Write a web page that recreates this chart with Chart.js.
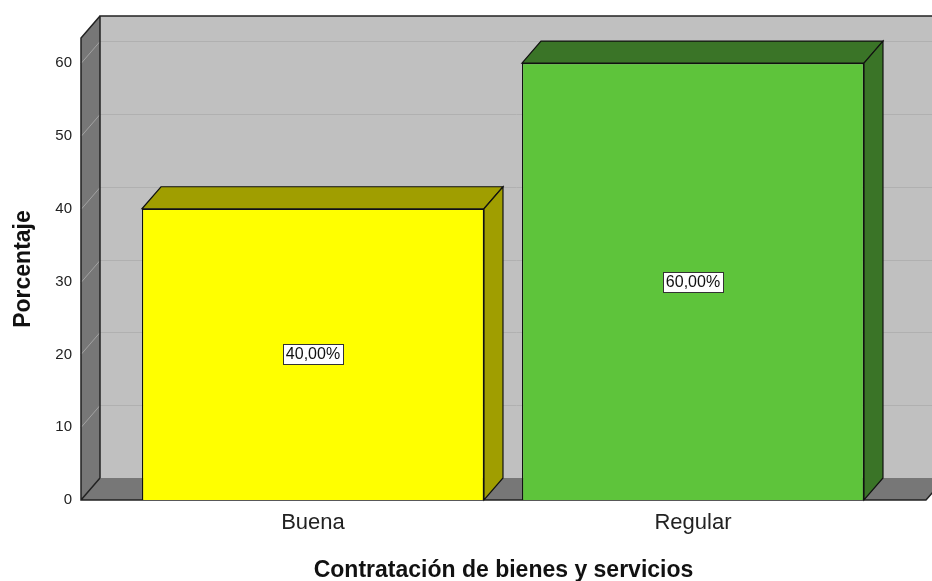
<!DOCTYPE html>
<html>
<head>
<meta charset="utf-8">
<script src="https://cdn.jsdelivr.net/npm/chart.js@4"></script>
<style>
  html, body { margin: 0; padding: 0; background: #fff; }
  #wrap { width: 932px; height: 581px; }
</style>
</head>
<body>
<div id="wrap"><canvas id="chart" width="932" height="581"></canvas></div>
<script>
// datos
const categories = ['Buena', 'Regular'];
const percentages = [40, 60];
const yTickValues = [0, 10, 20, 30, 40, 50, 60];

// estilo
const frontColors = ['#ffff00', '#5ec43b'];
const sideColors = ['#a09e00', '#3a7427'];
const DX = 19, DY = -22;   // profundidad 3D
const FONT = '"Liberation Sans", Arial, sans-serif';

const walls3d = {
  id: 'walls3d',
  beforeDatasetsDraw(chart) {
    const { ctx, chartArea: a, scales: { y } } = chart;
    ctx.save();
    // pared del fondo
    ctx.fillStyle = '#c0c0c0';
    ctx.fillRect(a.left + DX, a.top + DY, a.right - a.left + 20, a.bottom - a.top);
    // pared izquierda
    ctx.fillStyle = '#777777';
    ctx.beginPath();
    ctx.moveTo(a.left, a.top);
    ctx.lineTo(a.left + DX, a.top + DY);
    ctx.lineTo(a.left + DX, a.bottom + DY);
    ctx.lineTo(a.left, a.bottom);
    ctx.closePath();
    ctx.fill();
    // lineas de rejilla
    yTickValues.forEach(v => {
      if (v === 0) return;
      const py = Math.round(y.getPixelForValue(v)) + 0.5;
      ctx.strokeStyle = '#b0b0b0';
      ctx.lineWidth = 1;
      ctx.beginPath();
      ctx.moveTo(a.left + DX, py + DY);
      ctx.lineTo(a.right + 30, py + DY);
      ctx.stroke();
      ctx.strokeStyle = '#a2a2a2';
      ctx.beginPath();
      ctx.moveTo(a.left, py);
      ctx.lineTo(a.left + DX, py + DY);
      ctx.stroke();
    });
    // suelo
    ctx.fillStyle = '#777777';
    ctx.beginPath();
    ctx.moveTo(a.left, a.bottom);
    ctx.lineTo(a.right, a.bottom);
    ctx.lineTo(a.right + DX, a.bottom + DY);
    ctx.lineTo(a.left + DX, a.bottom + DY);
    ctx.closePath();
    ctx.fill();
    // bordes
    ctx.strokeStyle = '#222';
    ctx.lineWidth = 1.5;
    ctx.beginPath();
    ctx.moveTo(a.left + DX, a.bottom + DY);
    ctx.lineTo(a.left + DX, a.top + DY);
    ctx.lineTo(a.right + 30, a.top + DY);
    ctx.moveTo(a.left + DX, a.top + DY);
    ctx.lineTo(a.left, a.top);
    ctx.lineTo(a.left, a.bottom);
    ctx.lineTo(a.right, a.bottom);
    ctx.lineTo(a.right + DX, a.bottom + DY);
    ctx.moveTo(a.left, a.bottom);
    ctx.lineTo(a.left + DX, a.bottom + DY);
    ctx.stroke();
    ctx.restore();
  },
  afterDatasetsDraw(chart) {
    const { ctx } = chart;
    const meta = chart.getDatasetMeta(0);
    ctx.save();
    meta.data.forEach((bar, i) => {
      const p = bar.getProps(['x', 'y', 'base', 'width'], true);
      const x0 = p.x - p.width / 2, x1 = p.x + p.width / 2;
      ctx.fillStyle = sideColors[i];
      ctx.strokeStyle = '#111';
      ctx.lineWidth = 1.2;
      // cara superior
      ctx.beginPath();
      ctx.moveTo(x0, p.y);
      ctx.lineTo(x0 + DX, p.y + DY);
      ctx.lineTo(x1 + DX, p.y + DY);
      ctx.lineTo(x1, p.y);
      ctx.closePath();
      ctx.fill();
      ctx.stroke();
      // cara lateral
      ctx.beginPath();
      ctx.moveTo(x1, p.y);
      ctx.lineTo(x1 + DX, p.y + DY);
      ctx.lineTo(x1 + DX, p.base + DY);
      ctx.lineTo(x1, p.base);
      ctx.closePath();
      ctx.fill();
      ctx.stroke();
      // etiqueta
      const txt = percentages[i].toFixed(2).replace('.', ',') + '%';
      ctx.font = '16px ' + FONT;
      const w = Math.round(ctx.measureText(txt).width + 6);
      const cy = Math.round((p.y + p.base) / 2);
      const bx = Math.round(p.x - w / 2);
      ctx.fillStyle = '#fff';
      ctx.fillRect(bx, cy - 10, w, 20);
      ctx.strokeStyle = '#333';
      ctx.lineWidth = 1;
      ctx.strokeRect(bx + 0.5, cy - 10 + 0.5, w, 20);
      ctx.fillStyle = '#111';
      ctx.textAlign = 'center';
      ctx.textBaseline = 'middle';
      ctx.fillText(txt, p.x, cy + 1);
    });
    ctx.restore();
  }
};

new Chart(document.getElementById('chart'), {
  type: 'bar',
  data: {
    datasets: [{
      data: percentages.map((v, i) => ({ x: i, y: v })),
      backgroundColor: frontColors,
      borderColor: '#111',
      borderWidth: 1.2,
      barPercentage: 0.9,
      categoryPercentage: 1
    }]
  },
  plugins: [walls3d],
  options: {
    responsive: false,
    animation: false,
    layout: { padding: { top: 38, right: 6, left: 0, bottom: 0 } },
    plugins: { legend: { display: false }, tooltip: { enabled: false } },
    scales: {
      x: {
        type: 'linear',
        offset: false,
        bounds: 'data',
        min: -0.6105,
        max: 1.6132,
        grid: { display: false, offset: false },
        border: { display: false },
        afterBuildTicks: s => { s.ticks = categories.map((c, i) => ({ value: i })); },
        afterFit: s => { s.height = 81; },
        ticks: {
          padding: 2,
          color: '#222',
          font: { family: FONT, size: 22 },
          callback: v => categories[v]
        },
        title: {
          display: true,
          text: 'Contratación de bienes y servicios',
          color: '#111',
          font: { family: FONT, size: 23, weight: 'bold', lineHeight: 0.9 },
          padding: { top: 0, bottom: 0 }
        }
      },
      y: {
        min: 0,
        max: 63.45,
        grid: { display: false },
        border: { display: false },
        afterBuildTicks: s => { s.ticks = yTickValues.map(v => ({ value: v })); },
        afterFit: s => { s.width = 81; },
        ticks: {
          padding: 1,
          color: '#222',
          font: { family: FONT, size: 15 }
        },
        title: {
          display: true,
          text: 'Porcentaje',
          color: '#111',
          font: { family: FONT, size: 23, weight: 'bold' },
          padding: { top: 10, bottom: 0 }
        }
      }
    }
  }
});
</script>
</body>
</html>
